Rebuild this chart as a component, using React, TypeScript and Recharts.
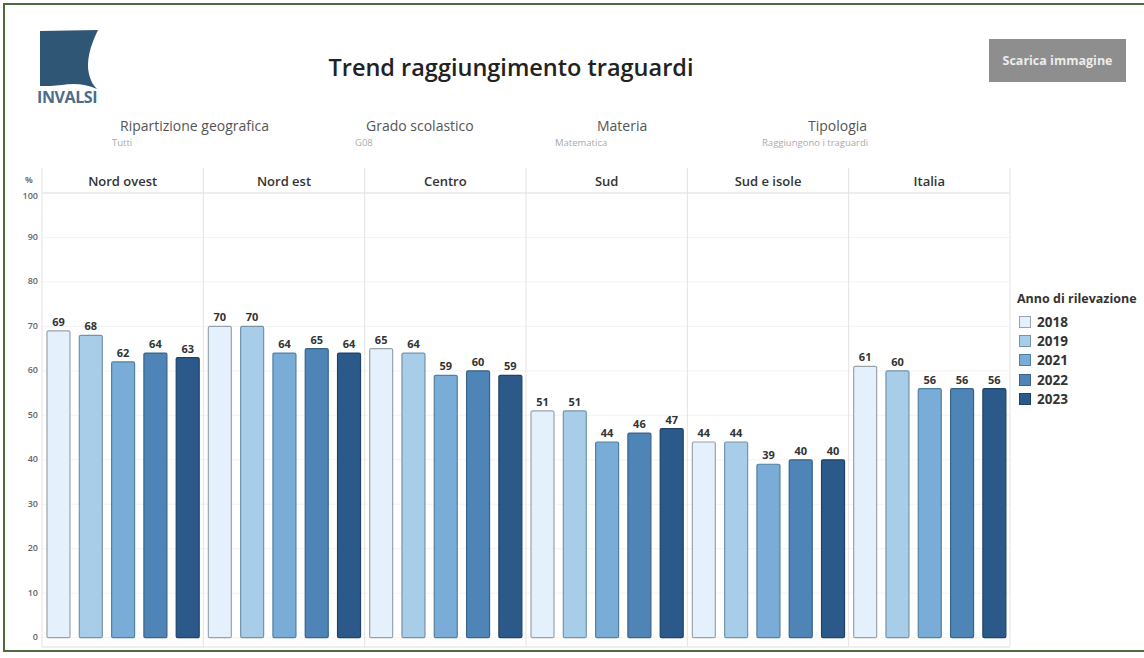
import { BarChart, Bar, XAxis, YAxis, CartesianGrid, LabelList, ReferenceLine } from 'recharts';

// Percentages of students reaching the targets, by area and survey year
const REGIONS = ['Nord ovest', 'Nord est', 'Centro', 'Sud', 'Sud e isole', 'Italia'];
const YEARS = ['2018', '2019', '2021', '2022', '2023'];
const V2018 = [69, 70, 65, 51, 44, 61];
const V2019 = [68, 70, 64, 51, 44, 60];
const V2021 = [62, 64, 59, 44, 39, 56];
const V2022 = [64, 65, 60, 46, 40, 56];
const V2023 = [63, 64, 59, 47, 40, 56];
const Y_TICKS = [0, 10, 20, 30, 40, 50, 60, 70, 80, 90, 100];

const SERIES = [V2018, V2019, V2021, V2022, V2023];
const FILLS = ['#e4f0fb', '#a8cde8', '#79acd6', '#4f84b6', '#2b5a8a'];
const STROKES = ['#9aa3aa', '#7594aa', '#52809f', '#3a6389', '#1f4266'];

const FILTERS = [
  { title: 'Ripartizione geografica', value: 'Tutti', tx: 120, vx: 112 },
  { title: 'Grado scolastico', value: 'G08', tx: 366, vx: 355 },
  { title: 'Materia', value: 'Matematica', tx: 597, vx: 555 },
  { title: 'Tipologia', value: 'Raggiungono i traguardi', tx: 808, vx: 762 },
];

const data = REGIONS.map((region, i) => {
  const row: Record<string, string | number> = { region };
  YEARS.forEach((y, k) => {
    row['y' + y] = SERIES[k][i];
  });
  return row;
});

const W = 1144;
const H = 658;
const MARGIN = { top: 168, right: 134, bottom: 11, left: 0 };
const HEADER_H = 25;
const PLOT_H = H - MARGIN.top - HEADER_H - MARGIN.bottom;
const PLOT_W = W - MARGIN.left - MARGIN.right - 42;
const Y_MIN = -2.1;
const FONT = '"Open Sans", "DejaVu Sans", sans-serif';

function PanelHeader(props: any) {
  const { x, y, payload, index } = props;
  const half = payload.offset || PLOT_W / REGIONS.length / 2;
  const top = y - HEADER_H;
  const bottom = y + PLOT_H;
  return (
    <g>
      <line x1={x - half} x2={x - half} y1={top} y2={bottom} stroke="#e3e3e3" />
      {index === REGIONS.length - 1 && (
        <line x1={x + half} x2={x + half} y1={top} y2={bottom} stroke="#e3e3e3" />
      )}
      <text x={x} y={y - 10} textAnchor="middle" dominantBaseline="middle"
        fontFamily={FONT} fontSize={13} fontWeight={600} fill="#333">
        {payload.value}
      </text>
    </g>
  );
}

function YTick(props: any) {
  const { x, y, payload } = props;
  // the top label is pushed down so it stays below the header line
  const dy = payload.value === 100 ? 4 : 0;
  return (
    <text x={x} y={y + dy} textAnchor="end" dominantBaseline="middle"
      fontFamily={FONT} fontSize={9} fontWeight={600} fill="#666">
      {payload.value}
    </text>
  );
}

function Logo() {
  return (
    <div style={{ position: 'absolute', left: 36, top: 28, width: 72, height: 80 }}>
      <svg width={72} height={62}>
        <path d="M4,3 L62,2 C54,18 50,34 53,46 C55,54 58,58 61,61 C50,56 38,55 26,57 C18,58 10,58 4,58 Z" fill="#2f5675" />
      </svg>
      <div style={{ position: 'absolute', left: 1, top: 58, fontFamily: FONT, fontSize: 16, fontWeight: 700, color: '#4a6d8c', letterSpacing: -0.4 }}>
        INVALSI
      </div>
    </div>
  );
}

export default function App() {
  return (
    <div style={{ position: 'absolute', left: 0, top: 0, width: W, height: H, background: '#fff', overflow: 'hidden', fontFamily: FONT }}>
      <div style={{ position: 'absolute', left: 3, top: 3, width: W + 20, height: H - 9, border: '2px solid #4d6b3d', boxSizing: 'border-box' }} />
      <Logo />
      <div style={{ position: 'absolute', left: 0, width: 1022, top: 52, textAlign: 'center', fontSize: 23.5, fontWeight: 600, color: '#222', lineHeight: '30px' }}>
        Trend raggiungimento traguardi
      </div>
      <div style={{ position: 'absolute', left: 989, top: 39, width: 137, height: 43, background: '#8e8e8e', color: '#ececec', fontSize: 12.5, fontWeight: 700, display: 'flex', alignItems: 'center', justifyContent: 'center' }}>
        Scarica immagine
      </div>
      {FILTERS.map((f) => (
        <div key={f.title}>
          <div style={{ position: 'absolute', left: f.tx, top: 117, fontSize: 14, color: '#555', lineHeight: '18px' }}>{f.title}</div>
          <div style={{ position: 'absolute', left: f.vx, top: 137, fontSize: 9.5, color: '#aaa', lineHeight: '12px' }}>{f.value}</div>
        </div>
      ))}
      <div style={{ position: 'absolute', left: 25, top: 174, fontSize: 9, fontWeight: 600, color: '#555', lineHeight: '12px' }}>%</div>

      <div style={{ position: 'absolute', left: 0, top: 0 }}>
        <BarChart width={W} height={H} data={data} margin={MARGIN} barSize={23} barGap={9.3}>
          <CartesianGrid vertical={false} stroke="#f3f3f3" />
          <XAxis dataKey="region" orientation="top" height={HEADER_H} axisLine={false}
            tickLine={false} tickSize={0} tickMargin={0} interval={0} tick={<PanelHeader />} />
          <YAxis domain={[Y_MIN, 100]} ticks={Y_TICKS} width={42} axisLine={false}
            tickLine={false} tickSize={0} tickMargin={4} tick={<YTick />} allowDataOverflow />
          <ReferenceLine y={100} stroke="#e3e3e3" />
          <ReferenceLine y={Y_MIN} stroke="#e3e3e3" />
          {YEARS.map((y, k) => (
            <Bar key={y} dataKey={'y' + y} fill={FILLS[k]} stroke={STROKES[k]} strokeWidth={1.2}
              radius={1.5} isAnimationActive={false}>
              <LabelList dataKey={'y' + y} position="top" offset={5}
                style={{ fontFamily: FONT, fontSize: 11, fontWeight: 700, fill: '#333' }} />
            </Bar>
          ))}
        </BarChart>
      </div>

      <div style={{ position: 'absolute', left: 1017, top: 290 }}>
        <div style={{ fontSize: 12.5, fontWeight: 700, color: '#333', lineHeight: '18px', marginBottom: 4 }}>Anno di rilevazione</div>
        {YEARS.map((y, k) => (
          <div key={y} style={{ display: 'flex', alignItems: 'center', height: 19.4 }}>
            <span style={{ display: 'inline-block', width: 10, height: 10, marginLeft: 2, background: FILLS[k], border: '1px solid ' + STROKES[k] }} />
            <span style={{ marginLeft: 6, fontSize: 13.5, fontWeight: 700, color: '#333' }}>{y}</span>
          </div>
        ))}
      </div>
    </div>
  );
}
